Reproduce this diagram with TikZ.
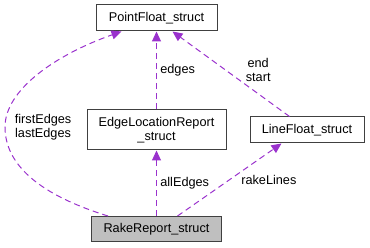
\documentclass[tikz,border=0pt]{standalone}
\usepackage{fontspec}
\setmainfont{Liberation Sans}
\usetikzlibrary{
    calc,                   % Offsets from node anchors.
    arrows.meta,            % Triangle arrow tips.
    positioning             % Relative positioning of nodes.
}

\definecolor{usecolor}{HTML}{9A32CD}
\definecolor{boxgray}{HTML}{404040}
\definecolor{rakefill}{HTML}{BFBFBF}

\tikzset{
    structbox/.style={draw=boxgray, line width=1pt, fill=white,
        align=center, inner sep=0pt,
        font=\fontsize{12.7}{14.5}\selectfont},
    uses/.style={draw=usecolor, line width=1pt,
        dash pattern=on 6pt off 4pt,
        -{Triangle[length=10pt, width=9pt]}},
    lbl/.style={font=\fontsize{12.7}{14.5}\selectfont, align=center}
}

\begin{document}
\begin{tikzpicture}[x=1pt, y=1pt]
    \useasboundingbox (0,0) rectangle (370,-248);
    % structs
    \node[structbox, minimum width=121pt, minimum height=26pt]
        (point) at (156.5,-18) {PointFloat\_struct};
    \node[structbox, minimum width=139pt, minimum height=40pt]
        (edgeloc) at (156.5,-130) {EdgeLocationReport\\\_struct};
    \node[structbox, minimum width=114pt, minimum height=26pt]
        (linefloat) at (307,-130) {LineFloat\_struct};
    \node[structbox, fill=rakefill, minimum width=130pt, minimum height=25pt]
        (rake) at (156.5,-229) {RakeReport\_struct};
    % members
    \draw[uses] (edgeloc) to
        node [lbl, right] {edges} (point);
    \draw[uses] (rake) to
        node [lbl, right] {allEdges} (edgeloc);
    \draw[uses] ($(rake.north)+(21,0)$) to
        node [lbl, right=8pt] {rakeLines} ($(linefloat.south west)+(32,0)$);
    \draw[uses] ($(linefloat.north west)+(40,0)$) to
        node [lbl, right, xshift=11pt, yshift=4pt] {end\\start}
        ($(point.south east)+(-45,0)$);
    \draw[uses] ($(rake.north west)+(17,0)$)
        .. controls (40,-195) and (5,-165) .. (5,-127)
        node [lbl, right=6pt] {firstEdges\\lastEdges}
        .. controls (5,-90) and (55,-55) .. ($(point.south west)+(26,0)$);
\end{tikzpicture}
\end{document}
